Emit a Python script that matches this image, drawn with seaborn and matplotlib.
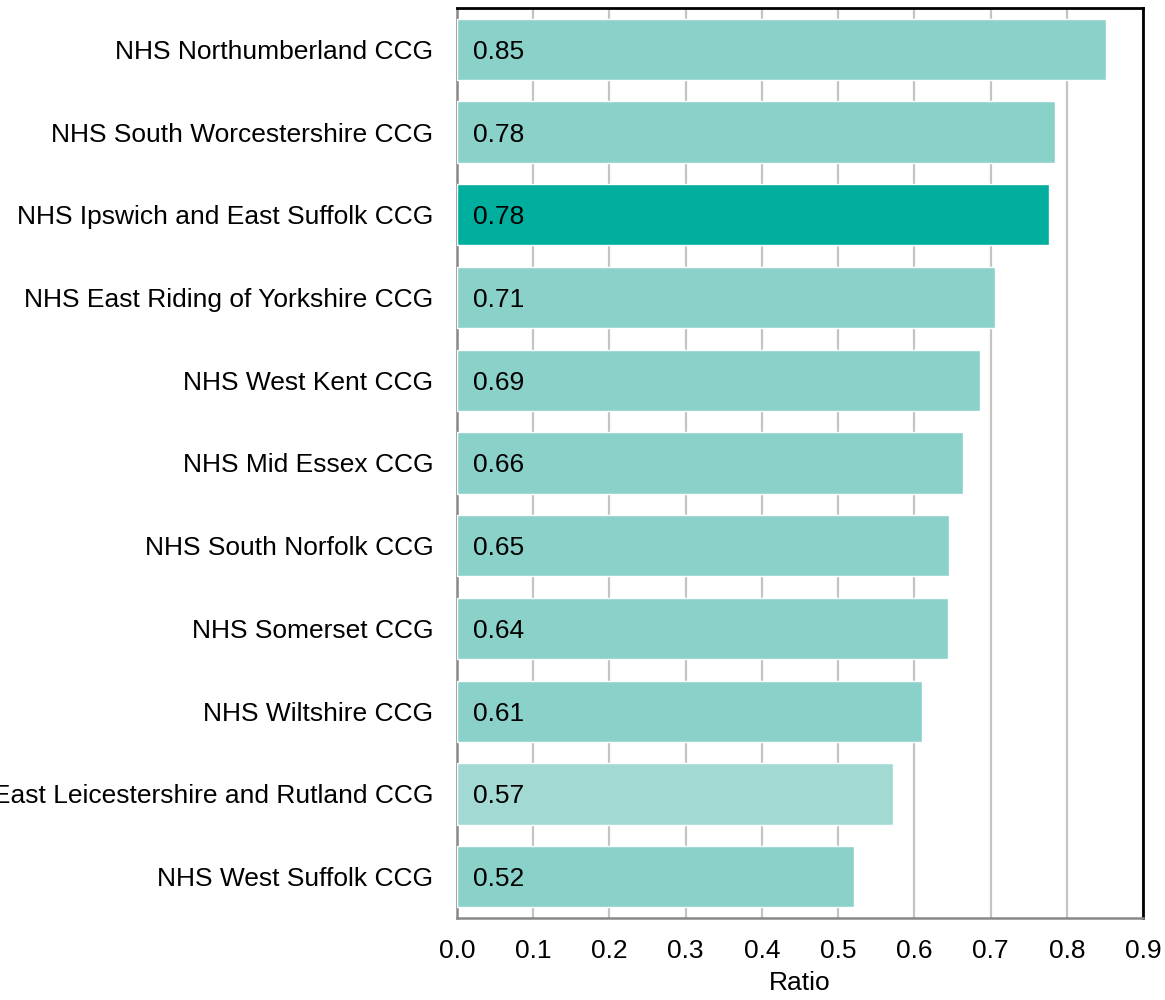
import pandas as pd
import matplotlib.pyplot as plt
import seaborn as sns

CCGS = [
    "NHS Northumberland CCG",
    "NHS South Worcestershire CCG",
    "NHS Ipswich and East Suffolk CCG",
    "NHS East Riding of Yorkshire CCG",
    "NHS West Kent CCG",
    "NHS Mid Essex CCG",
    "NHS South Norfolk CCG",
    "NHS Somerset CCG",
    "NHS Wiltshire CCG",
    "NHS East Leicestershire and Rutland CCG",
    "NHS West Suffolk CCG",
]
RATIOS = [0.851, 0.785, 0.777, 0.706, 0.686, 0.664, 0.6455, 0.6445, 0.610, 0.572, 0.521]
LABELS = ["0.85", "0.78", "0.78", "0.71", "0.69", "0.66", "0.65", "0.64", "0.61", "0.57", "0.52"]
HIGHLIGHT = "NHS Ipswich and East Suffolk CCG"
LIGHT = "NHS East Leicestershire and Rutland CCG"
X_TICKS = [0.0, 0.1, 0.2, 0.3, 0.4, 0.5, 0.6, 0.7, 0.8, 0.9]

data = pd.DataFrame({"ccg": CCGS, "ratio": RATIOS})

sns.set_style("white")
plt.rcParams["font.family"] = ["Liberation Sans", "DejaVu Sans"]
plt.rcParams["text.color"] = "black"
plt.rcParams["axes.labelcolor"] = "black"
plt.rcParams["xtick.labelcolor"] = "black"
plt.rcParams["ytick.labelcolor"] = "black"

FS = 19

palette = {}
for c in CCGS:
    if c == HIGHLIGHT:
        palette[c] = "#00AE9E"
    elif c == LIGHT:
        palette[c] = "#A2DAD3"
    else:
        palette[c] = "#8AD1C9"

fig = plt.figure(figsize=(11.65, 10), dpi=100)
ax = fig.add_axes([0.3923, 0.082, 0.5888, 0.910])

sns.barplot(data=data, x="ratio", y="ccg", hue="ccg", palette=palette,
            order=CCGS, width=0.74, legend=False, saturation=1, ax=ax, zorder=3)

# value labels inside the bars (the axis label on the left is clipped, as in the source)
for i, lab in enumerate(LABELS):
    ax.text(0.021, i + 0.03, lab, va="center", ha="left", fontsize=FS, color="black", zorder=4)

ax.set_xlim(0, 0.9)
ax.set_ylim(len(CCGS) - 0.5, -0.5)
ax.set_xticks(X_TICKS)
ax.set_xticklabels([f"{t:.1f}" for t in X_TICKS], fontsize=FS)
ax.set_yticks(range(len(CCGS)))
ax.set_yticklabels(CCGS, fontsize=FS)
ax.tick_params(axis="y", length=0, pad=17)
ax.tick_params(axis="x", length=5, width=1.5, color="#888888", pad=10)

# category boundary ticks on the y axis
ax.set_yticks([i - 0.5 for i in range(len(CCGS) + 1)], minor=True)
ax.tick_params(axis="y", which="minor", length=5, width=1.5, color="#888888")

ax.grid(axis="x", color="#C4C4C4", linewidth=1.6, zorder=0)
ax.set_axisbelow(True)

ax.set_xlabel("Ratio", fontsize=FS, labelpad=6)
ax.set_ylabel("")

for side in ["left", "bottom"]:
    ax.spines[side].set_color("#888888")
    ax.spines[side].set_linewidth(1.8)
for side in ["top", "right"]:
    ax.spines[side].set_color("black")
    ax.spines[side].set_linewidth(2)

plt.savefig("out.png", dpi=100)
plt.close()
